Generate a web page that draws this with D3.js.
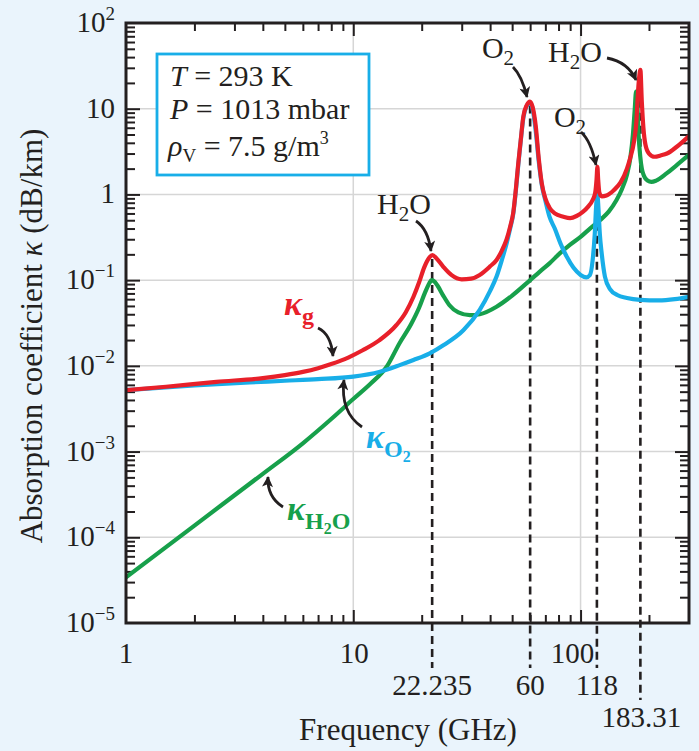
<!DOCTYPE html>
<html><head><meta charset="utf-8">
<script src="https://cdn.jsdelivr.net/npm/d3@7"></script>
<style>
html,body{margin:0;padding:0;background:#eaf4fc;}
svg{display:block;}
text{font-family:"Liberation Serif","Times New Roman",serif;}
</style></head><body>
<svg id="chart" width="699" height="751"></svg>
<script>
// ---------- data ----------
const freqTotal = [1,1.5,2.5,4,5,6,7,8,9.5,11,13,15.5,17,18.4,19.5,20.5,21.5,22.3,23.2,24.9,27,30,33,36,40,42.7,45,47.3,49,50.6,52,53.2,54.5,56,58,59.9,61.5,63.5,65.5,67.5,70,73,77,84,90,96,102,108,113,116,117.6,118.6,119.5,121,124,130,140,150,160,165,172,176,178.5,181,183.3,186,189,193,200,212,225,240,265,300];
const kTotal = [0.0052,0.0057,0.0065,0.0072,0.0078,0.0085,0.0094,0.0105,0.0125,0.0152,0.0198,0.03,0.042,0.064,0.095,0.14,0.18,0.196,0.18,0.143,0.115,0.102,0.104,0.115,0.145,0.172,0.22,0.3,0.42,0.62,1.2,2.3,4.2,8.1,11,12.1,10.5,6.3,2.6,1.35,0.9,0.7,0.6,0.55,0.53,0.56,0.62,0.72,0.86,1.05,1.5,2.1,1.5,1.05,0.95,0.97,1.12,1.38,2.0,2.6,4.2,7,14,23,28.5,12,6,3.8,3.0,2.75,2.85,3.0,3.6,4.8];

const freqO2 = [1,2,3.5,5,7,10,13,16,18.4,21.7,25,30.5,36,40,42.7,45,47.3,49,50.6,52,53.2,54.5,56,58,59.9,61.5,63.5,65.5,67.5,70,73,77,82,87,93,100,106,110,113,115.5,117.2,118.6,119.8,121.5,124,128,135,145,160,183,220,260,300];
const kO2 = [0.0052,0.0059,0.0064,0.0067,0.007,0.0075,0.0085,0.0102,0.0117,0.014,0.0175,0.026,0.045,0.075,0.11,0.17,0.27,0.4,0.6,1.15,2.2,4.1,7.8,10.8,11.8,10,5.5,2.4,1.3,0.85,0.55,0.4,0.26,0.187,0.14,0.115,0.108,0.115,0.17,0.35,0.75,1.0,0.7,0.35,0.2,0.11,0.078,0.067,0.062,0.059,0.058,0.06,0.064];

const freqH2O = [1,2,4,6,8,10,12,14,16,18,19.5,20.7,21.6,22.1,22.6,23.5,24.8,26.5,29,32.6,36,42.7,50,60,66,73,81,90,100,110,121.7,133,144,152,160,166,170,173,175.5,177.5,180,183,186,190,197,205,215,239,265,300];
const kH2O = [3.4e-5,1.37e-4,5.5e-4,1.25e-3,2.4e-3,4.1e-3,6.3e-3,9.7e-3,0.0185,0.031,0.048,0.072,0.092,0.1,0.098,0.086,0.067,0.051,0.042,0.039,0.04,0.049,0.066,0.1,0.125,0.157,0.205,0.26,0.32,0.4,0.5,0.63,0.86,1.15,1.7,2.8,5,9.5,15.8,12,5,2.8,2.0,1.65,1.45,1.4,1.45,1.76,2.2,2.9];

const lineFreqs = [22.235, 60, 118, 183.31];
const lineLabels = ["22.235", "60", "118", "183.31"];
const xTickVals = [1, 10, 100];
const xTickText = ["1", "10", "100"];
const yTickVals = [1e-5, 1e-4, 1e-3, 1e-2, 1e-1, 1, 10, 100];
const yTickBase = ["10", "10", "10", "10", "10", "1", "10", "10"];
const yTickExp = ["−5", "−4", "−3", "−2", "−1", "", "", "2"];

// ---------- setup ----------
const W = 699, H = 751;
const L = 126, R = 689, T = 23, B = 623;
const x = d3.scaleLog().domain([1, 300]).range([L, R]);
const y = d3.scaleLog().domain([1e-5, 100]).range([B, T]);
const svg = d3.select("#chart");
const ink = "#231f20";
const cRed = "#e8202a", cBlue = "#18aee8", cGreen = "#17a04b";

svg.append("rect").attr("width", W).attr("height", H).attr("fill", "#eaf4fc");
svg.append("rect").attr("x", L).attr("y", T).attr("width", R - L).attr("height", B - T).attr("fill", "#fff");

const defs = svg.append("defs");
defs.append("clipPath").attr("id", "clip").append("rect")
  .attr("x", L).attr("y", T).attr("width", R - L).attr("height", B - T);
defs.append("marker").attr("id", "ah").attr("viewBox", "0 0 10 10")
  .attr("refX", 9).attr("refY", 5).attr("markerUnits", "userSpaceOnUse")
  .attr("markerWidth", 14).attr("markerHeight", 11).attr("orient", "auto")
  .append("path").attr("d", "M0,0 L10,5 L0,10 L2.5,5 z").attr("fill", ink);

// gridlines
const grid = svg.append("g").attr("stroke", "#d6d6d6").attr("stroke-width", 1.5);
[10, 100].forEach(v => grid.append("line").attr("x1", x(v)).attr("x2", x(v)).attr("y1", T).attr("y2", B));
yTickVals.slice(1, -1).forEach(v => grid.append("line").attr("x1", L).attr("x2", R).attr("y1", y(v)).attr("y2", y(v)));

// ticks (inward) on all four sides
const xt = x.ticks();
const isMajor = v => Math.abs(Math.log10(v) - Math.round(Math.log10(v))) < 1e-9;
const xMin = xt.filter(v => !isMajor(v) && v < 300), xMaj = xt.filter(v => isMajor(v) && v > 1);
const yt = y.ticks();
const yMin = yt.filter(v => !isMajor(v)), yMaj = yt.filter(v => isMajor(v) && v > 1e-5 && v < 100);
function axisG(axis, tx, ty) {
  const g = svg.append("g").attr("transform", `translate(${tx},${ty})`).call(axis);
  g.select(".domain").remove();
  g.selectAll("line").attr("stroke", ink).attr("stroke-width", 2);
  g.selectAll("text").remove();
}
axisG(d3.axisBottom(x).tickValues(xMin).tickSize(-8).tickFormat(""), 0, B);
axisG(d3.axisBottom(x).tickValues(xMaj).tickSize(-13).tickFormat(""), 0, B);
axisG(d3.axisTop(x).tickValues(xMin).tickSize(-8).tickFormat(""), 0, T);
axisG(d3.axisTop(x).tickValues(xMaj).tickSize(-13).tickFormat(""), 0, T);
axisG(d3.axisLeft(y).tickValues(yMin).tickSize(-9).tickFormat(""), L, 0);
axisG(d3.axisLeft(y).tickValues(yMaj).tickSize(-14).tickFormat(""), L, 0);
axisG(d3.axisRight(y).tickValues(yMin).tickSize(-9).tickFormat(""), R, 0);
axisG(d3.axisRight(y).tickValues(yMaj).tickSize(-14).tickFormat(""), R, 0);

// dashed marker lines
const dashBottom = [668, 668, 668, 700];
lineFreqs.forEach((f, i) => {
  const near = kTotal.filter((k, j) => Math.abs(Math.log10(freqTotal[j] / f)) < 0.012);
  const top = d3.max(near);
  svg.append("line").attr("x1", x(f)).attr("x2", x(f)).attr("y1", y(top) + 4).attr("y2", dashBottom[i])
    .attr("stroke", ink).attr("stroke-width", 2.6).attr("stroke-dasharray", "8,5");
});

// curves
const line = d3.line().x(d => x(d[0])).y(d => y(d[1])).curve(d3.curveMonotoneX);
const cg = svg.append("g").attr("clip-path", "url(#clip)");
[[freqH2O, kH2O, cGreen], [freqO2, kO2, cBlue], [freqTotal, kTotal, cRed]].forEach(([fs, ks, c]) => {
  cg.append("path").attr("d", line(fs.map((f, i) => [f, ks[i]])))
    .attr("fill", "none").attr("stroke", c).attr("stroke-width", 4.2).attr("stroke-linejoin", "round").attr("stroke-linecap", "round");
});

// frame
svg.append("rect").attr("x", L).attr("y", T).attr("width", R - L).attr("height", B - T)
  .attr("fill", "none").attr("stroke", ink).attr("stroke-width", 3);

// helper for text
function txt(xp, yp, size, anchor) {
  return svg.append("text").attr("x", xp).attr("y", yp).attr("font-size", size)
    .attr("text-anchor", anchor || "start").style("fill", ink);
}

// x tick labels
const xDx = [0, 1, -8];
xTickVals.forEach((v, i) => txt(x(v) + xDx[i], 663, 29, "middle").text(xTickText[i]));
const lblY = [695, 695, 695, 727];
lineFreqs.forEach((f, i) => txt(x(f) + (i === 3 ? 1 : 0), lblY[i], 29, "middle").text(lineLabels[i]));

// y tick labels
yTickVals.forEach((v, i) => {
  const t = txt(115, y(v) + 9, 29, "end");
  t.append("tspan").text(yTickBase[i]);
  if (yTickExp[i]) t.append("tspan").attr("font-size", 19).attr("dy", -12).text(yTickExp[i]);
});

// axis titles
txt(408, 740, 31, "middle").text("Frequency (GHz)");
const yt2 = svg.append("text").attr("transform", "translate(42,336) rotate(-90)")
  .attr("text-anchor", "middle").attr("font-size", 31).style("fill", ink);
yt2.append("tspan").text("Absorption coefficient ");
yt2.append("tspan").attr("font-style", "italic").text("κ");
yt2.append("tspan").text(" (dB/km)");

// info box
svg.append("rect").attr("x", 157).attr("y", 54).attr("width", 212).attr("height", 121)
  .attr("fill", "#fff").attr("stroke", cBlue).attr("stroke-width", 2.8);
const bx = 170;
const t1 = txt(bx, 86, 30);
t1.append("tspan").attr("font-style", "italic").text("T");
t1.append("tspan").text(" = 293 K");
const t2 = txt(bx, 119, 30);
t2.append("tspan").attr("font-style", "italic").text("P");
t2.append("tspan").text(" = 1013 mbar");
const t3 = txt(bx - 2, 156, 30);
t3.append("tspan").attr("font-style", "italic").text("ρ");
t3.append("tspan").attr("font-size", 19).attr("dy", 6).text("V");
t3.append("tspan").attr("dy", -6).text(" = 7.5 g/m");
t3.append("tspan").attr("font-size", 18).attr("dy", -12).text("3");

// peak annotations
function formula(xc, yb, parts) {
  const t = txt(xc, yb, 30, "middle");
  let shifted = false;
  parts.forEach(s => {
    const isSub = /[0-9]/.test(s);
    const ts = t.append("tspan").text(s);
    if (isSub) { ts.attr("font-size", 21).attr("dy", 7); shifted = true; }
    else if (shifted) { ts.attr("dy", -7); shifted = false; }
  });
}
formula(404, 214, ["H", "2", "O"]);
formula(498, 58, ["O", "2"]);
formula(575, 62, ["H", "2", "O"]);
formula(570, 127, ["O", "2"]);

function arrow(p0, c, p1) {
  svg.append("path").attr("d", `M${p0[0]},${p0[1]} Q${c[0]},${c[1]} ${p1[0]},${p1[1]}`)
    .attr("fill", "none").attr("stroke", ink).attr("stroke-width", 2.8).attr("marker-end", "url(#ah)");
}
arrow([416, 221], [428, 229], [431, 251]);
arrow([513, 67], [522, 76], [527, 97]);
arrow([607, 58], [628, 62], [636, 80]);
arrow([581, 132], [591, 141], [596, 165]);
arrow([318, 328], [331, 334], [333, 356]);
arrow([362, 427], [340, 412], [344, 380]);
arrow([283, 507], [267, 497], [268, 477]);

// kappa labels
function kappa(x0, yb, color, parts) {
  const t = svg.append("text").attr("x", x0).attr("y", yb).attr("font-weight", "bold").style("fill", color);
  t.append("tspan").attr("font-size", 34).attr("font-style", "italic").text("κ");
  let level = 0;
  parts.forEach(s => {
    const want = /[0-9]/.test(s) ? 2 : 1;
    const ts = t.append("tspan").text(s);
    const dy = want === 2 ? 5 : (level === 0 ? 9 : (level === 2 ? -5 : 0));
    ts.attr("font-size", want === 2 ? 16 : 24);
    if (dy) ts.attr("dy", dy);
    level = want;
  });
}
kappa(284, 315, cRed, ["g"]);
kappa(366, 448, cBlue, ["O", "2"]);
kappa(287, 520, cGreen, ["H", "2", "O"]);
</script>
</body></html>
